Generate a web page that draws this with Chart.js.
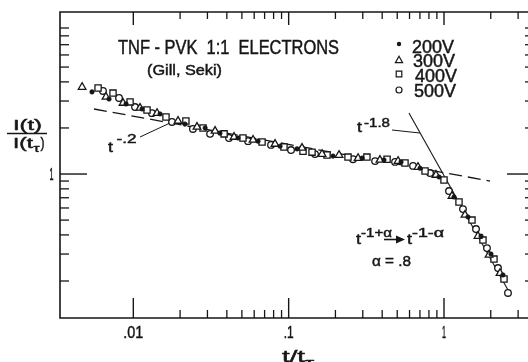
<!DOCTYPE html>
<html><head><meta charset="utf-8">
<script src="https://cdn.jsdelivr.net/npm/chart.js@4.4.1/dist/chart.umd.min.js"></script>
<style>html,body{margin:0;padding:0;background:#fff;overflow:hidden;width:528px;height:362px}canvas{display:block}</style>
</head><body>
<canvas id="c" width="536" height="362"></canvas>
<script>
// ---- data (t/t_tau, I(t)/I(t_tau)) ----
const seriesNames = ['200V', '300V', '400V', '500V'];

const x200 = [0.00542, 0.00698, 0.00898, 0.01138, 0.01486, 0.0215, 0.0290, 0.0361, 0.0472, 0.0635, 0.0880, 0.1132, 0.193, 0.297, 0.411, 0.529, 0.701, 0.929, 1.160, 1.427, 1.731, 2.007, 2.397];
const y200 = [3.44, 3.09, 2.87, 2.66, 2.47, 2.12, 2.00, 1.85, 1.72, 1.64, 1.52, 1.46, 1.31, 1.27, 1.235, 1.20, 1.09, 0.956, 0.707, 0.524, 0.393, 0.300, 0.219];

const x300 = [0.00468, 0.00667, 0.00859, 0.01104, 0.01422, 0.0194, 0.0257, 0.0336, 0.0445, 0.0590, 0.0817, 0.1219, 0.164, 0.211, 0.280, 0.387, 0.506, 0.680, 0.888, 1.126, 1.365, 1.655, 1.949, 2.294];
const y300 = [3.70, 3.19, 2.91, 2.70, 2.50, 2.22, 2.03, 1.91, 1.745, 1.67, 1.57, 1.48, 1.35, 1.33, 1.27, 1.235, 1.215, 1.11, 0.985, 0.718, 0.540, 0.393, 0.296, 0.225];

const x400 = [0.00593, 0.00740, 0.00953, 0.01225, 0.01623, 0.0218, 0.0281, 0.0384, 0.0508, 0.0674, 0.0933, 0.1237, 0.1414, 0.1766, 0.241, 0.319, 0.430, 0.561, 0.755, 1.000, 1.249, 1.514, 1.782, 2.098, 2.434];
const y400 = [3.65, 3.38, 2.96, 2.62, 2.36, 2.22, 2.00, 1.83, 1.72, 1.62, 1.50, 1.41, 1.39, 1.33, 1.29, 1.29, 1.25, 1.18, 1.046, 0.914, 0.656, 0.500, 0.370, 0.278, 0.206];

const x500 = [0.00638, 0.00809, 0.01026, 0.01319, 0.01775, 0.0242, 0.0312, 0.0413, 0.0548, 0.0770, 0.1036, 0.1478, 0.2596, 0.360, 0.484, 0.632, 0.813, 1.077, 1.325, 1.607, 1.891, 2.227, 2.582];
const y500 = [3.49, 3.14, 2.74, 2.50, 2.19, 1.97, 1.83, 1.72, 1.64, 1.55, 1.435, 1.35, 1.25, 1.215, 1.20, 1.13, 1.015, 0.774, 0.590, 0.437, 0.328, 0.243, 0.167];

// guide lines
const fitLowX = [0.00558, 1.978];   // t^-.2 (dashed)
const fitLowY = [2.66, 0.900];
const fitHighX = [0.595, 2.582];    // t^-1.8
const fitHighY = [2.504, 0.1745];
const leadLowX = [0.01104, 0.0172];
const leadLowY = [1.745, 2.154];
const leadHighX = [0.4627, 0.701];
const leadHighY = [1.940, 1.853];

// axes
const xMin = 0.003373, xMax = 3.578;
const yMin = 0.1146, yMax = 11.45;
const xMajorTicks = [0.01, 0.1, 1];
const xTickLabels = ['.01', '.1', '1'];
const xMinorTicks = [0.02, 0.03, 0.04, 0.05, 0.06, 0.07, 0.08, 0.09, 0.2, 0.3, 0.4, 0.5, 0.6, 0.7, 0.8, 0.9, 2, 3];
const yMajorTicks = [1];
const yTickLabels = ['1'];
const yMinorTicks = [0.2, 0.3, 0.4, 0.5, 0.6, 0.7, 0.8, 0.9, 2, 3, 4, 5, 6, 7, 8, 9];

const pts = (xs, ys) => xs.map((v, i) => ({x: v, y: ys[i]}));
const INK = '#161616';
const FONT = '"Liberation Sans", Arial, sans-serif';

function T(ctx, s, x, y, size, w, align) {
  ctx.save();
  ctx.font = size + 'px ' + FONT;
  ctx.fillStyle = INK;
  ctx.strokeStyle = INK;
  ctx.lineWidth = 0.45;
  ctx.textBaseline = 'alphabetic';
  ctx.textAlign = 'left';
  const m = ctx.measureText(s).width;
  const k = w ? w / m : 1;
  const ww = m * k;
  let x0 = x;
  if (align === 'center') x0 = x - ww / 2;
  ctx.translate(x0, y);
  ctx.scale(k, 1);
  ctx.fillText(s, 0, 0);
  ctx.strokeText(s, 0, 0);
  ctx.restore();
}

const framePlugin = {
  id: 'frame',
  afterDatasetsDraw(chart) {
    const {ctx, chartArea: a} = chart;
    const xs = chart.scales.x, ys = chart.scales.y;
    ctx.save();
    ctx.strokeStyle = INK;
    ctx.lineWidth = 1.6;
    ctx.beginPath();
    ctx.moveTo(a.right, a.top); ctx.lineTo(a.left, a.top);
    ctx.lineTo(a.left, a.bottom); ctx.lineTo(a.right, a.bottom);
    ctx.lineTo(a.right, a.top);
    ctx.stroke();
    const line = (x1, y1, x2, y2, w) => {
      ctx.lineWidth = w; ctx.beginPath(); ctx.moveTo(x1, y1); ctx.lineTo(x2, y2); ctx.stroke();
    };
    xMajorTicks.forEach(v => { const p = xs.getPixelForValue(v);
      line(p, a.bottom, p, a.bottom - 20, 1.4); line(p, a.top, p, a.top + 13, 1.4); });
    xMinorTicks.forEach(v => { const p = xs.getPixelForValue(v);
      line(p, a.bottom, p, a.bottom - 8, 1.3); line(p, a.top, p, a.top + 7, 1.3); });
    yMajorTicks.forEach(v => { const p = ys.getPixelForValue(v);
      line(a.left, p, a.left + 27, p, 1.4); line(a.right, p, a.right - 23, p, 1.4); });
    yMinorTicks.forEach(v => { const p = ys.getPixelForValue(v);
      line(a.left, p, a.left + 9, p, 1.3); line(a.right, p, a.right - 5, p, 1.3); });

    // tick labels
    xMajorTicks.forEach((v, i) => {
      const p = xs.getPixelForValue(v);
      const w = xTickLabels[i].length === 3 ? 20 : (xTickLabels[i].length === 2 ? 10 : 4);
      T(ctx, xTickLabels[i], p, 338, 17, w, 'center');
    });
    yMajorTicks.forEach((v, i) => {
      const p = ys.getPixelForValue(v);
      T(ctx, yTickLabels[i], 51.5, p + 6, 16, 4, 'center');
    });

    // axis titles
    T(ctx, 'I(t)', 13, 130, 14, 29);
    ctx.lineWidth = 1.4; ctx.beginPath(); ctx.moveTo(7, 133.5); ctx.lineTo(47, 133.5); ctx.stroke();
    T(ctx, 'I(t', 13, 148, 14, 20);
    T(ctx, 'τ', 33.5, 152, 10, 6);
    T(ctx, ')', 40.5, 148, 14, 4);
    T(ctx, 't/t', 282, 362, 16, 23);
    T(ctx, 'τ', 305, 367, 12, 9);

    // title and source
    T(ctx, 'TNF - PVK  1:1  ELECTRONS', 118, 54, 19.5, 221);
    T(ctx, '(Gill, Seki)', 147, 75, 14.5, 75);

    // legend
    const lx = 399;
    const legY = [44, 60, 74, 90];
    const legTextY = [53, 67, 82, 97];
    const legTextX = [412, 413, 415, 414];
    ctx.lineWidth = 1.2;
    ctx.strokeStyle = INK;
    ctx.fillStyle = INK;
    ctx.beginPath(); ctx.arc(lx, legY[0], 2.2, 0, Math.PI * 2); ctx.fill();
    ctx.fillStyle = '#fff';
    ctx.beginPath(); ctx.moveTo(lx, legY[1] - 3.8); ctx.lineTo(lx + 3.6, legY[1] + 2.6); ctx.lineTo(lx - 3.6, legY[1] + 2.6); ctx.closePath(); ctx.fill(); ctx.stroke();
    ctx.beginPath(); ctx.rect(lx - 2.8, legY[2] - 2.8, 5.6, 5.6); ctx.fill(); ctx.stroke();
    ctx.beginPath(); ctx.arc(lx, legY[3], 3, 0, Math.PI * 2); ctx.fill(); ctx.stroke();
    seriesNames.forEach((s, i) => T(ctx, s, legTextX[i], legTextY[i], 17.5, 42));

    // power-law annotations
    T(ctx, 't', 108, 152, 14, 5);
    T(ctx, '-.2', 116.5, 143, 13, 20);
    T(ctx, 't', 357, 132, 14, 5);
    T(ctx, '-1.8', 364, 127, 13, 26);
    T(ctx, 't', 356, 244, 14, 5);
    T(ctx, '-1+α', 361, 236.5, 12, 31);
    ctx.strokeStyle = INK; ctx.lineWidth = 1.6;
    ctx.beginPath(); ctx.moveTo(384, 239.5); ctx.lineTo(398, 239.5); ctx.stroke();
    ctx.fillStyle = INK;
    ctx.beginPath(); ctx.moveTo(396, 235.5); ctx.lineTo(405, 239.5); ctx.lineTo(396, 243.5); ctx.closePath(); ctx.fill();
    T(ctx, 't', 407, 244, 14, 5);
    T(ctx, '-1-α', 412, 236.5, 12, 32);
    T(ctx, 'α = .8', 372, 266, 15, 39);
    ctx.restore();
  }
};

const guide = (xs, ys, dash, w) => ({
  data: pts(xs, ys), showLine: true, borderColor: INK, borderWidth: w,
  borderDash: dash, pointRadius: 0, fill: false, tension: 0
});

new Chart(document.getElementById('c'), {
  type: 'scatter',
  data: {
    datasets: [
      {label: seriesNames[0], data: pts(x200, y200), pointStyle: 'circle', pointRadius: 2.3,
       backgroundColor: INK, borderColor: INK, borderWidth: 0.5},
      {label: seriesNames[1], data: pts(x300, y300), pointStyle: 'triangle', pointRadius: 4.4,
       backgroundColor: '#fff', borderColor: INK, borderWidth: 1.3},
      {label: seriesNames[2], data: pts(x400, y400), pointStyle: 'rect', pointRadius: 4.4,
       backgroundColor: '#fff', borderColor: INK, borderWidth: 1.3},
      {label: seriesNames[3], data: pts(x500, y500), pointStyle: 'circle', pointRadius: 3.3,
       backgroundColor: '#fff', borderColor: INK, borderWidth: 1.3},
      guide(fitHighX, fitHighY, [], 1.1),
      guide(leadHighX, leadHighY, [], 1.0),
      guide(leadLowX, leadLowY, [], 1.0),
      guide(fitLowX, fitLowY, [13, 6], 1.3)
    ]
  },
  options: {
    responsive: false,
    devicePixelRatio: 1,
    animation: false,
    events: [],
    layout: {padding: {left: 60, top: 12, right: 6, bottom: 44}},
    plugins: {legend: {display: false}, tooltip: {enabled: false}},
    scales: {
      x: {type: 'logarithmic', min: xMin, max: xMax, bounds: 'data', display: false},
      y: {type: 'logarithmic', min: yMin, max: yMax, bounds: 'data', display: false}
    }
  },
  plugins: [framePlugin]
});
</script>
</body></html>
